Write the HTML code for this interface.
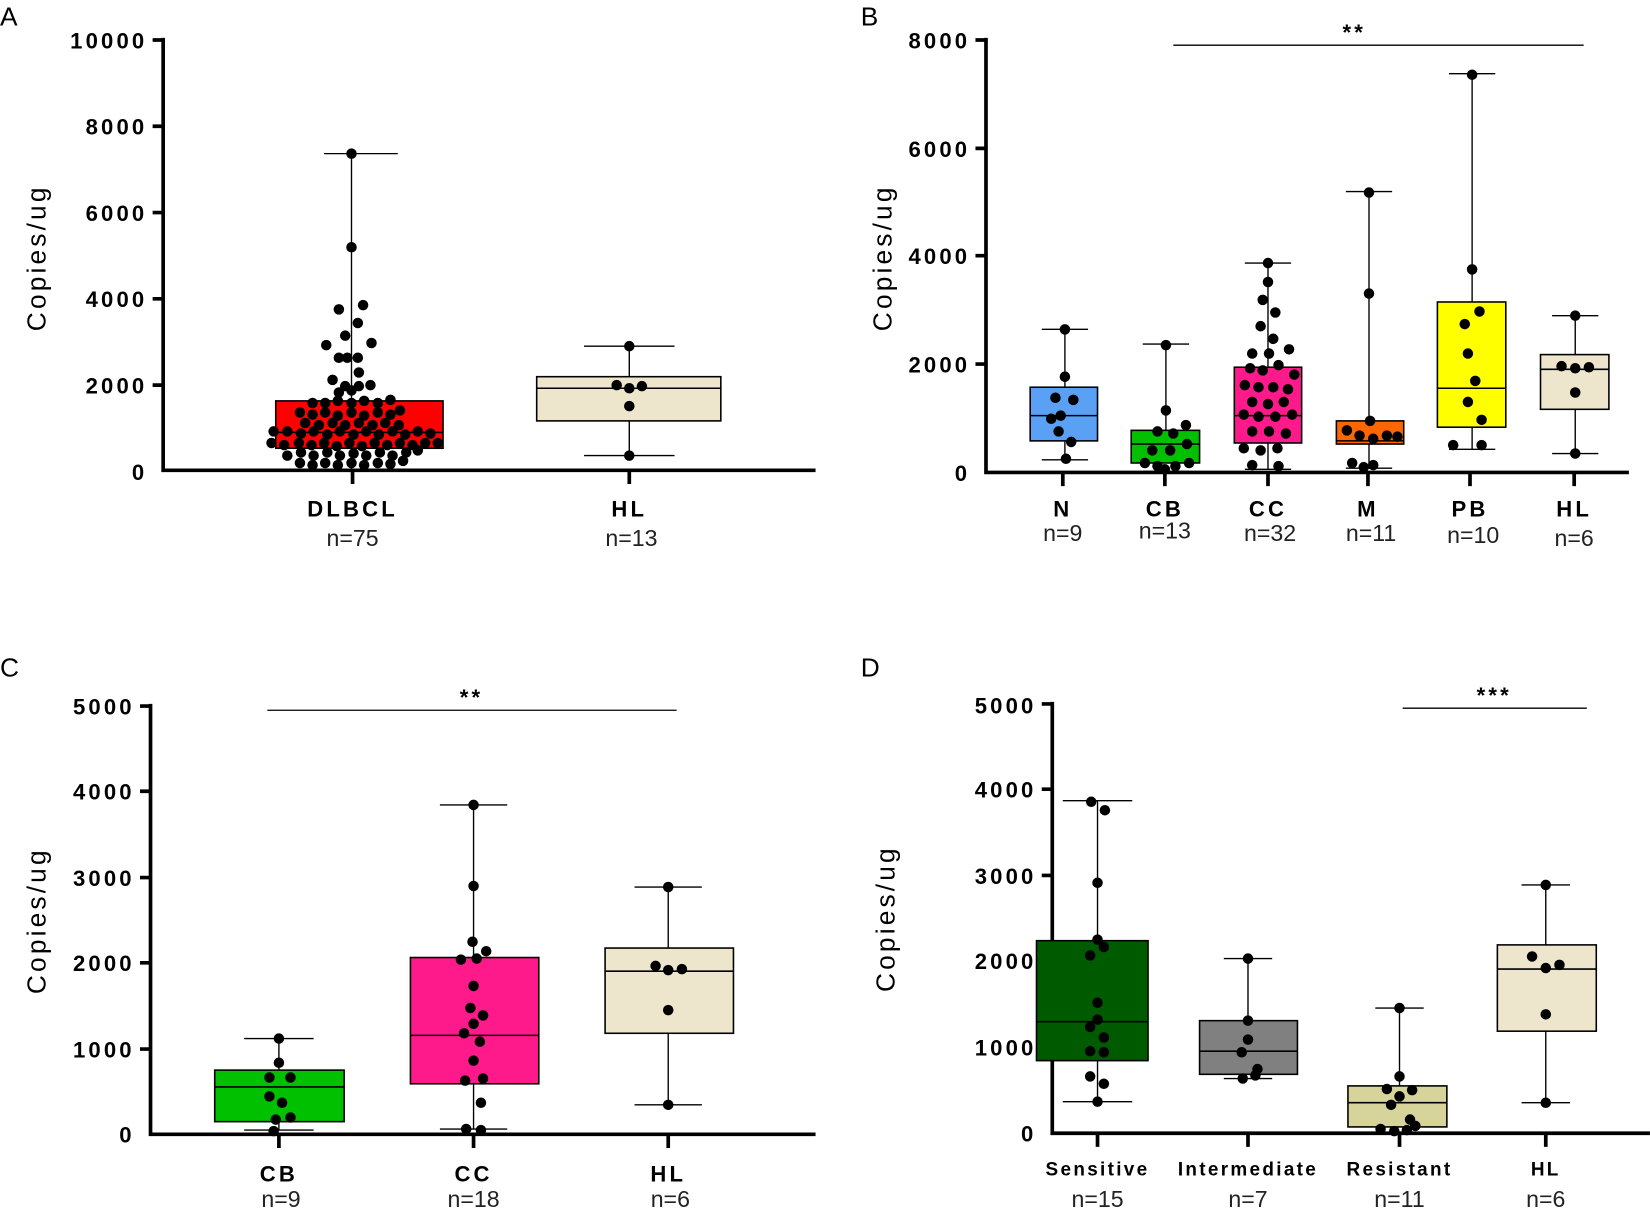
<!DOCTYPE html>
<html><head><meta charset="utf-8"><style>
html,body{margin:0;padding:0;background:#fff}
svg{display:block}
.t{font-family:"Liberation Sans",sans-serif;font-weight:bold;font-size:21px;letter-spacing:3px;fill:#000}
.n{font-family:"Liberation Sans",sans-serif;font-size:22px;fill:#222}
.yl{font-family:"Liberation Sans",sans-serif;font-size:25px;letter-spacing:3px;fill:#000}
.p{font-family:"Liberation Sans",sans-serif;font-size:25px;fill:#000}
.ax{stroke:#000;stroke-width:3.5;fill:none}
.w{stroke:#000;stroke-width:1.3;fill:none}
.b{stroke:#000;stroke-width:1.5}
</style></head><body>
<svg width="1650" height="1209" viewBox="0 0 1568 1149" xmlns="http://www.w3.org/2000/svg">
<text class="p" x="0" y="24">A</text>
<text class="p" x="818" y="24">B</text>
<text class="p" x="0" y="643">C</text>
<text class="p" x="818" y="643">D</text>

<!-- A -->
<text class="yl" transform="translate(43,245) rotate(-90)" text-anchor="middle">Copies/ug</text>
<g class="t" text-anchor="end">
<text x="140" y="46">10000</text><text x="140" y="128">8000</text><text x="140" y="210">6000</text>
<text x="140" y="292">4000</text><text x="140" y="374">2000</text><text x="140" y="456">0</text>
</g>
<path class="ax" d="M155,36V447H775M145,38H155M145,120H155M145,202H155M145,284H155M145,366H155M335,447V460M598,447V460"/>
<path class="w" d="M334,146V381M334,426V447M308,146H378"/>
<rect x="262" y="381" width="159" height="45" fill="#ff0000" class="b"/>
<path class="b" d="M262,411H421"/>
<path class="w" d="M598,329V358M598,400V433M555,329H641M555,433H641"/>
<rect x="510" y="358" width="175" height="42" fill="#ede6cc" class="b"/>
<path class="b" d="M510,369H685"/>
<g fill="#000">
<circle cx="334" cy="146" r="5"/><circle cx="334" cy="235" r="5"/><circle cx="345" cy="290" r="5"/><circle cx="322" cy="294" r="5"/><circle cx="340" cy="307" r="5"/><circle cx="328" cy="319" r="5"/><circle cx="310" cy="328" r="5"/><circle cx="353" cy="326" r="5"/><circle cx="322" cy="340" r="5"/><circle cx="330" cy="340" r="5"/><circle cx="340" cy="340" r="5"/><circle cx="341" cy="354" r="5"/><circle cx="316" cy="361" r="5"/><circle cx="328" cy="367" r="5"/><circle cx="341" cy="367" r="5"/><circle cx="352" cy="366" r="5"/><circle cx="322" cy="373" r="5"/><circle cx="334" cy="371" r="5"/>
<circle cx="297" cy="383" r="5"/><circle cx="309" cy="383" r="5"/><circle cx="321" cy="381" r="5"/><circle cx="334" cy="383" r="5"/><circle cx="346" cy="381" r="5"/><circle cx="359" cy="383" r="5"/><circle cx="371" cy="380" r="5"/>
<circle cx="285" cy="392" r="5"/><circle cx="297" cy="394" r="5"/><circle cx="309" cy="392" r="5"/><circle cx="321" cy="395" r="5"/><circle cx="334" cy="392" r="5"/><circle cx="346" cy="395" r="5"/><circle cx="359" cy="392" r="5"/><circle cx="371" cy="394" r="5"/><circle cx="380" cy="390" r="5"/>
<circle cx="290" cy="402" r="5"/><circle cx="303" cy="404" r="5"/><circle cx="316" cy="402" r="5"/><circle cx="328" cy="404" r="5"/><circle cx="341" cy="402" r="5"/><circle cx="354" cy="404" r="5"/><circle cx="366" cy="402" r="5"/><circle cx="379" cy="404" r="5"/>
<circle cx="260" cy="410" r="5"/><circle cx="273" cy="410" r="5"/><circle cx="286" cy="412" r="5"/><circle cx="298" cy="410" r="5"/><circle cx="311" cy="413" r="5"/><circle cx="323" cy="410" r="5"/><circle cx="336" cy="413" r="5"/><circle cx="348" cy="410" r="5"/><circle cx="360" cy="413" r="5"/><circle cx="373" cy="410" r="5"/><circle cx="385" cy="413" r="5"/><circle cx="397" cy="410" r="5"/><circle cx="409" cy="412" r="5"/>
<circle cx="258" cy="421" r="5"/><circle cx="270" cy="423" r="5"/><circle cx="284" cy="421" r="5"/><circle cx="296" cy="423" r="5"/><circle cx="308" cy="421" r="5"/><circle cx="320" cy="424" r="5"/><circle cx="332" cy="421" r="5"/><circle cx="344" cy="424" r="5"/><circle cx="356" cy="421" r="5"/><circle cx="368" cy="423" r="5"/><circle cx="380" cy="421" r="5"/><circle cx="392" cy="423" r="5"/><circle cx="404" cy="421" r="5"/><circle cx="416" cy="421" r="5"/>
<circle cx="273" cy="433" r="5"/><circle cx="286" cy="430" r="5"/><circle cx="298" cy="433" r="5"/><circle cx="311" cy="430" r="5"/><circle cx="323" cy="433" r="5"/><circle cx="336" cy="431" r="5"/><circle cx="348" cy="433" r="5"/><circle cx="361" cy="430" r="5"/><circle cx="373" cy="433" r="5"/><circle cx="386" cy="430" r="5"/><circle cx="397" cy="428" r="5"/>
<circle cx="285" cy="440" r="5"/><circle cx="297" cy="442" r="5"/><circle cx="309" cy="440" r="5"/><circle cx="321" cy="442" r="5"/><circle cx="334" cy="440" r="5"/><circle cx="346" cy="442" r="5"/><circle cx="359" cy="440" r="5"/><circle cx="371" cy="441" r="5"/><circle cx="383" cy="438" r="5"/>
<circle cx="598" cy="329" r="5"/><circle cx="586" cy="366" r="5"/><circle cx="598" cy="369" r="5"/><circle cx="610" cy="367" r="5"/><circle cx="598" cy="386" r="5"/><circle cx="598" cy="433" r="5"/>
</g>
<g class="t" text-anchor="middle"><text x="335" y="491">DLBCL</text><text x="598" y="491">HL</text></g>
<g class="n" text-anchor="middle"><text x="335" y="519">n=75</text><text x="600" y="519">n=13</text></g>

<!-- B -->
<text class="yl" transform="translate(847,245) rotate(-90)" text-anchor="middle">Copies/ug</text>
<g class="t" text-anchor="end">
<text x="922" y="46">8000</text><text x="922" y="149">6000</text><text x="922" y="251">4000</text>
<text x="922" y="354">2000</text><text x="922" y="457">0</text>
</g>
<path class="ax" d="M937,36V449H1548M927,38H937M927,141H937M927,243H937M927,346H937M1010,449V462M1107,449V462M1205,449V462M1300,449V462M1397,449V462M1496,449V462"/>
<path class="w" d="M1115,43H1505"/><text x="1287" y="38" text-anchor="middle" class="t">**</text>
<path class="w" d="M1012,313V368M1012,419V437M990,313H1034M990,437H1034"/>
<rect x="979" y="368" width="64" height="51" fill="#5aa0f5" class="b"/><path class="b" d="M979,395H1043"/>
<path class="w" d="M1108,327V409M1086,327H1130M1086,448H1130"/>
<rect x="1075" y="409" width="65" height="31" fill="#00c000" class="b"/><path class="b" d="M1075,422H1140"/>
<path class="w" d="M1205,250V349M1205,421V446M1183,250H1227M1183,446H1227"/>
<rect x="1173" y="349" width="64" height="72" fill="#ff1a8c" class="b"/><path class="b" d="M1173,395H1237"/>
<path class="w" d="M1301,182V400M1301,422V445M1279,182H1323M1279,445H1323"/>
<rect x="1270" y="400" width="64" height="22" fill="#ff6600" class="b"/><path class="b" d="M1270,419H1334"/>
<path class="w" d="M1399,70V287M1399,406V427M1377,70H1421M1377,427H1421"/>
<rect x="1366" y="287" width="65" height="119" fill="#ffff00" class="b"/><path class="b" d="M1366,369H1431"/>
<path class="w" d="M1497,300V337M1497,389V431M1475,300H1519M1475,431H1519"/>
<rect x="1464" y="337" width="65" height="52" fill="#ede6cc" class="b"/><path class="b" d="M1464,351H1529"/>
<g fill="#000">
<circle cx="1012" cy="313" r="5"/><circle cx="1012" cy="358" r="5"/><circle cx="1003" cy="378" r="5"/><circle cx="1020" cy="380" r="5"/><circle cx="999" cy="398" r="5"/><circle cx="1006" cy="410" r="5"/><circle cx="1018" cy="420" r="5"/><circle cx="1013" cy="436" r="5"/><circle cx="1008" cy="395" r="5"/>
<circle cx="1108" cy="328" r="5"/><circle cx="1108" cy="390" r="5"/><circle cx="1100" cy="410" r="5"/><circle cx="1115" cy="412" r="5"/><circle cx="1127" cy="404" r="5"/><circle cx="1095" cy="428" r="5"/><circle cx="1112" cy="428" r="5"/><circle cx="1128" cy="422" r="5"/><circle cx="1088" cy="440" r="5"/><circle cx="1100" cy="443" r="5"/><circle cx="1117" cy="443" r="5"/><circle cx="1130" cy="440" r="5"/><circle cx="1107" cy="446" r="5"/>
<circle cx="1205" cy="250" r="5"/><circle cx="1205" cy="268" r="5"/><circle cx="1200" cy="285" r="5"/><circle cx="1212" cy="297" r="5"/><circle cx="1198" cy="310" r="5"/><circle cx="1210" cy="322" r="5"/><circle cx="1190" cy="336" r="5"/><circle cx="1206" cy="336" r="5"/><circle cx="1225" cy="332" r="5"/><circle cx="1215" cy="347" r="5"/><circle cx="1188" cy="350" r="5"/><circle cx="1200" cy="352" r="5"/><circle cx="1230" cy="356" r="5"/><circle cx="1183" cy="366" r="5"/><circle cx="1196" cy="368" r="5"/><circle cx="1210" cy="368" r="5"/><circle cx="1224" cy="370" r="5"/><circle cx="1190" cy="382" r="5"/><circle cx="1205" cy="384" r="5"/><circle cx="1220" cy="382" r="5"/><circle cx="1182" cy="394" r="5"/><circle cx="1196" cy="396" r="5"/><circle cx="1212" cy="396" r="5"/><circle cx="1228" cy="394" r="5"/><circle cx="1190" cy="410" r="5"/><circle cx="1206" cy="410" r="5"/><circle cx="1222" cy="412" r="5"/><circle cx="1182" cy="426" r="5"/><circle cx="1198" cy="428" r="5"/><circle cx="1214" cy="426" r="5"/><circle cx="1190" cy="442" r="5"/><circle cx="1215" cy="443" r="5"/>
<circle cx="1301" cy="183" r="5"/><circle cx="1301" cy="279" r="5"/><circle cx="1302" cy="400" r="5"/><circle cx="1280" cy="409" r="5"/><circle cx="1292" cy="414" r="5"/><circle cx="1305" cy="417" r="5"/><circle cx="1318" cy="414" r="5"/><circle cx="1328" cy="415" r="5"/><circle cx="1285" cy="440" r="5"/><circle cx="1305" cy="442" r="5"/><circle cx="1296" cy="444" r="5"/>
<circle cx="1399" cy="71" r="5"/><circle cx="1399" cy="256" r="5"/><circle cx="1406" cy="296" r="5"/><circle cx="1392" cy="308" r="5"/><circle cx="1395" cy="336" r="5"/><circle cx="1402" cy="362" r="5"/><circle cx="1395" cy="382" r="5"/><circle cx="1408" cy="399" r="5"/><circle cx="1381" cy="423" r="5"/><circle cx="1408" cy="423" r="5"/>
<circle cx="1497" cy="300" r="5"/><circle cx="1484" cy="348" r="5"/><circle cx="1497" cy="350" r="5"/><circle cx="1510" cy="349" r="5"/><circle cx="1497" cy="373" r="5"/><circle cx="1497" cy="431" r="5"/>
</g>
<g class="t" text-anchor="middle"><text x="1010" y="491">N</text><text x="1107" y="491">CB</text><text x="1205" y="491">CC</text><text x="1300" y="491">M</text><text x="1397" y="491">PB</text><text x="1496" y="491">HL</text></g>
<g class="n" text-anchor="middle"><text x="1010" y="514">n=9</text><text x="1107" y="512">n=13</text><text x="1207" y="514">n=32</text><text x="1303" y="514">n=11</text><text x="1400" y="516">n=10</text><text x="1496" y="519">n=6</text></g>

<!-- C -->
<text class="yl" transform="translate(43,875) rotate(-90)" text-anchor="middle">Copies/ug</text>
<g class="t" text-anchor="end">
<text x="128" y="679">5000</text><text x="128" y="760">4000</text><text x="128" y="842">3000</text>
<text x="128" y="923">2000</text><text x="128" y="1005">1000</text><text x="128" y="1086">0</text>
</g>
<path class="ax" d="M143,669V1078H775M133,671H143M133,752H143M133,834H143M133,915H143M133,997H143M265,1078V1091M450,1078V1091M635,1078V1091"/>
<path class="w" d="M254,675H643"/><text x="448" y="670" text-anchor="middle" class="t">**</text>
<path class="w" d="M265,987V1017M265,1066V1074M232,987H298M232,1074H298"/>
<rect x="204" y="1017" width="123" height="49" fill="#00c000" class="b"/><path class="b" d="M204,1033H327"/>
<path class="w" d="M450,765V910M450,1030V1073M418,765H482M418,1073H482"/>
<rect x="390" y="910" width="122" height="120" fill="#ff1a8c" class="b"/><path class="b" d="M390,984H512"/>
<path class="w" d="M635,843V901M635,982V1050M603,843H667M603,1050H667"/>
<rect x="575" y="901" width="122" height="81" fill="#ede6cc" class="b"/><path class="b" d="M575,923H697"/>
<g fill="#000">
<circle cx="265" cy="987" r="5"/><circle cx="265" cy="1010" r="5"/><circle cx="256" cy="1024" r="5"/><circle cx="276" cy="1024" r="5"/><circle cx="256" cy="1042" r="5"/><circle cx="268" cy="1048" r="5"/><circle cx="276" cy="1062" r="5"/><circle cx="262" cy="1064" r="5"/><circle cx="260" cy="1075" r="5"/>
<circle cx="450" cy="765" r="5"/><circle cx="450" cy="842" r="5"/><circle cx="449" cy="895" r="5"/><circle cx="462" cy="904" r="5"/><circle cx="438" cy="912" r="5"/><circle cx="453" cy="911" r="5"/><circle cx="450" cy="937" r="5"/><circle cx="447" cy="958" r="5"/><circle cx="459" cy="965" r="5"/><circle cx="450" cy="973" r="5"/><circle cx="441" cy="982" r="5"/><circle cx="456" cy="990" r="5"/><circle cx="450" cy="1008" r="5"/><circle cx="459" cy="1025" r="5"/><circle cx="442" cy="1027" r="5"/><circle cx="457" cy="1048" r="5"/><circle cx="443" cy="1073" r="5"/><circle cx="457" cy="1074" r="5"/>
<circle cx="635" cy="843" r="5"/><circle cx="623" cy="918" r="5"/><circle cx="635" cy="922" r="5"/><circle cx="648" cy="921" r="5"/><circle cx="635" cy="960" r="5"/><circle cx="635" cy="1050" r="5"/>
</g>
<g class="t" text-anchor="middle"><text x="265" y="1123">CB</text><text x="450" y="1123">CC</text><text x="635" y="1123">HL</text></g>
<g class="n" text-anchor="middle"><text x="267" y="1147">n=9</text><text x="450" y="1147">n=18</text><text x="637" y="1147">n=6</text></g>

<!-- D -->
<text class="yl" transform="translate(850,873) rotate(-90)" text-anchor="middle">Copies/ug</text>
<g class="t" text-anchor="end">
<text x="985" y="678">5000</text><text x="985" y="758">4000</text><text x="985" y="840">3000</text>
<text x="985" y="921">2000</text><text x="985" y="1003">1000</text><text x="985" y="1085">0</text>
</g>
<path class="ax" d="M1000,667V1077H1568M990,669H1000M990,750H1000M990,832H1000M990,913H1000M990,995H1000M1043,1077V1090M1186,1077V1090M1330,1077V1090M1469,1077V1090"/>
<path class="w" d="M1333,673H1508"/><text x="1420" y="668" text-anchor="middle" class="t">***</text>
<path class="w" d="M1043,761V894M1043,1008V1047M1010,761H1076M1010,1047H1076"/>
<rect x="985" y="894" width="106" height="114" fill="#005a00" class="b"/><path class="b" d="M985,971H1091"/>
<path class="w" d="M1186,911V970M1163,911H1209M1163,1025H1209"/>
<rect x="1140" y="970" width="93" height="51" fill="#808080" class="b"/><path class="b" d="M1140,999H1233"/>
<path class="w" d="M1330,958V1032M1307,958H1353"/>
<rect x="1281" y="1032" width="94" height="39" fill="#d6d49a" class="b"/><path class="b" d="M1281,1048H1375"/>
<path class="w" d="M1469,841V898M1469,980V1048M1446,841H1492M1446,1048H1492"/>
<rect x="1423" y="898" width="94" height="82" fill="#ede6cc" class="b"/><path class="b" d="M1423,921H1517"/>
<g fill="#000">
<circle cx="1037" cy="762" r="5"/><circle cx="1050" cy="770" r="5"/><circle cx="1043" cy="839" r="5"/><circle cx="1043" cy="893" r="5"/><circle cx="1049" cy="900" r="5"/><circle cx="1036" cy="908" r="5"/><circle cx="1043" cy="953" r="5"/><circle cx="1043" cy="969" r="5"/><circle cx="1036" cy="976" r="5"/><circle cx="1049" cy="986" r="5"/><circle cx="1036" cy="999" r="5"/><circle cx="1049" cy="1000" r="5"/><circle cx="1036" cy="1023" r="5"/><circle cx="1049" cy="1030" r="5"/><circle cx="1043" cy="1047" r="5"/>
<circle cx="1186" cy="911" r="5"/><circle cx="1186" cy="970" r="5"/><circle cx="1186" cy="988" r="5"/><circle cx="1180" cy="1000" r="5"/><circle cx="1195" cy="1016" r="5"/><circle cx="1181" cy="1025" r="5"/><circle cx="1193" cy="1022" r="5"/>
<circle cx="1330" cy="958" r="5"/><circle cx="1330" cy="1023" r="5"/><circle cx="1318" cy="1035" r="5"/><circle cx="1330" cy="1042" r="5"/><circle cx="1342" cy="1036" r="5"/><circle cx="1322" cy="1050" r="5"/><circle cx="1340" cy="1064" r="5"/><circle cx="1312" cy="1073" r="5"/><circle cx="1325" cy="1075" r="5"/><circle cx="1337" cy="1074" r="5"/><circle cx="1345" cy="1070" r="5"/>
<circle cx="1469" cy="841" r="5"/><circle cx="1456" cy="909" r="5"/><circle cx="1469" cy="920" r="5"/><circle cx="1482" cy="917" r="5"/><circle cx="1469" cy="964" r="5"/><circle cx="1469" cy="1048" r="5"/>
</g>
<g class="t" text-anchor="middle" style="font-size:18px;letter-spacing:2.2px"><text x="1043" y="1117">Sensitive</text><text x="1186" y="1117">Intermediate</text><text x="1330" y="1117">Resistant</text><text x="1469" y="1117">HL</text></g>
<g class="n" text-anchor="middle"><text x="1043" y="1147">n=15</text><text x="1186" y="1147">n=7</text><text x="1330" y="1147">n=11</text><text x="1469" y="1147">n=6</text></g>
</svg>
</body></html>
